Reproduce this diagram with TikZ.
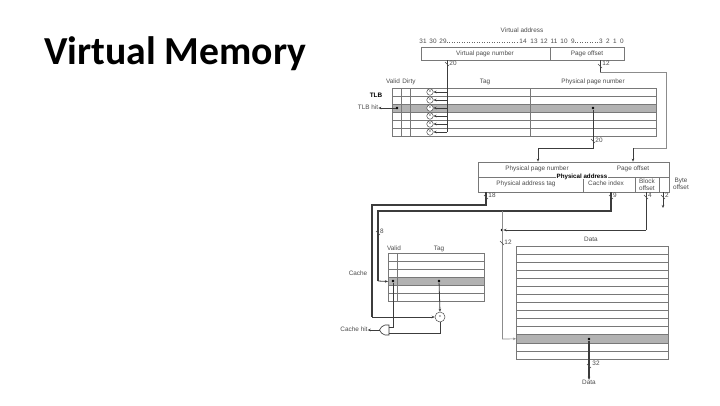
\documentclass[tikz,border=0pt]{standalone}
\usepackage{fontspec}
\setmainfont{Liberation Sans}
\newfontfamily\titlefont{Carlito}
\usetikzlibrary{arrows.meta, positioning}
\definecolor{RowGray}{RGB}{178, 178, 178}
\definecolor{GridGray}{RGB}{120, 120, 120}
\definecolor{WireGray}{RGB}{60, 60, 60}

\begin{document}
\begin{tikzpicture}[
    x=1pt, y=-1pt,
    % --- Styles ---
    % Small grey labels of the figure
    small-label/.style={font=\fontsize{6.4}{6.6}\selectfont, text=black!70, inner sep=0pt, align=center, text height=4.6pt, text depth=1.3pt},
    % Same labels on two lines
    two-lines/.style={small-label, text height=, text depth=},
    % Boxes of the address fields
    field-box/.style={draw=GridGray, line width=0.7pt, inner sep=0pt},
    % One row of a table
    row-box/.style={draw=GridGray, line width=0.6pt, minimum height=8pt, inner sep=0pt, outer sep=0pt},
    % Comparators
    cmp-circle/.style={circle, draw=black!70, line width=0.5pt, fill=white, inner sep=0pt, font=\fontsize{4}{4}\selectfont},
    % Wires
    wire/.style={draw=WireGray, line width=0.8pt},
    wire-arrow/.style={wire, -{Stealth[length=3pt, width=2.5pt]}},
    thick-wire/.style={draw=WireGray, line width=1.1pt},
    pale-wire/.style={draw=black!45, line width=0.7pt},
    pale-arrow/.style={pale-wire, -{Stealth[length=3pt, width=2.5pt]}},
    tick-mark/.style={draw=black!70, line width=0.4pt},
    dot-mark/.style={circle, fill=black, minimum size=2.6pt, inner sep=0pt}
]
\useasboundingbox[fill=white] (0,0) rectangle (720,405);

% --- Title ---
\node[font=\titlefont\bfseries\fontsize{39.7}{42}\selectfont, anchor=base west, inner sep=0pt] (title) at (44,64) {Virtual Memory};

% --- Virtual address ---
\node[small-label] (va-label) at (522,31) {Virtual address};
\foreach \b/\xb in {31/423,30/433,29/443,14/523,13/534,12/544,11/554,10/564,9/573,3/601,2/608,1/615,0/622} {
    \node[small-label] (bit-\b) at (\xb,42) {\b};
}
\draw[black!60, line width=0.5pt, dotted] (bit-29.east) -- (bit-14.west);
\draw[black!60, line width=0.5pt, dotted] (bit-9.east) -- (bit-3.west);
\node[field-box, minimum width=129pt, minimum height=13pt] (vpn) at (485.5,53.5) {};
\node[field-box, minimum width=74pt, minimum height=13pt] (vpo) at (587,53.5) {};
\node[small-label] (vpn-label) at (485,53.5) {Virtual page number};
\node[small-label] (vpo-label) at (587,53.5) {Page offset};

% --- TLB ---
\foreach \i/\yr in {1/92,2/100,3/108,4/116,5/124,6/132} {
    \node[row-box, minimum width=264pt] (tlb-\i) at (524,\yr) {};
}
\fill[RowGray] (tlb-3.north west) rectangle (tlb-3.south east);
\draw[GridGray, line width=0.6pt] (tlb-3.north west) rectangle (tlb-3.south east);
\foreach \xc/\lw in {401/0.5,410/0.6,530/1} {
    \draw[GridGray, line width=\lw pt] (\xc,88) -- (\xc,136);
}
\node[small-label] (tlb-valid) at (393,82) {Valid};
\node[small-label] (tlb-dirty) at (409,82) {Dirty};
\node[small-label] (tlb-tag) at (485,82) {Tag};
\node[small-label] (tlb-ppn) at (593,82) {Physical page number};
\node[small-label, font=\fontsize{6.4}{6.6}\selectfont\bfseries, text=black] (tlb-label) at (376,96) {TLB};
\node[small-label] (tlb-hit) at (368,108) {TLB hit};
\node[dot-mark] (tlb-dot) at (397,108) {};
\node[dot-mark] (ppn-dot) at (593,108) {};
\draw[wire-arrow] (tlb-dot) -- (tlb-hit.east);

% --- Comparators and the 20 bit tag wire ---
\coordinate (vpn-out) at (447,60);
\coordinate (vpn-end) at (447,132);
\draw[wire] (vpn-out) -- (vpn-end);
\foreach \i/\yr in {1/92,2/100,3/108,4/116,5/124,6/132} {
    \node[cmp-circle, minimum size=6.5pt] (tlb-cmp-\i) at (430,\yr) {=};
    \coordinate (vpn-tap-\i) at (447,\yr);
    \draw[wire-arrow] (vpn-tap-\i) -- (tlb-cmp-\i.east);
}

% --- Physical address ---
\node[field-box, minimum width=191pt, minimum height=15pt] (pa-top) at (573.5,169.5) {};
\node[field-box, minimum width=105pt, minimum height=15pt] (pa-tag) at (530.5,184.5) {};
\node[field-box, minimum width=52pt, minimum height=15pt] (pa-index) at (609,184.5) {};
\node[field-box, minimum width=24pt, minimum height=15pt] (pa-block) at (647,184.5) {};
\node[field-box, minimum width=10pt, minimum height=15pt] (pa-byte) at (664,184.5) {};
\node[small-label] (ppn-label) at (537,169) {Physical page number};
\node[small-label] (po-label) at (633,169) {Page offset};
\node[small-label, font=\fontsize{6.2}{6.6}\selectfont\bfseries, text=black, fill=white, inner xsep=1pt, text height=4.2pt, text depth=1pt] (pa-label) at (582,176.5) {Physical address};
\node[small-label] (tag-label) at (526,184) {Physical address tag};
\node[small-label] (index-label) at (606,184) {Cache index};
\node[two-lines] (block-label) at (647,184.5) {Block\\offset};
\node[two-lines] (byte-label) at (681,184) {Byte\\offset};

% --- TLB to physical address ---
\coordinate (ppn-turn) at (593,148);
\coordinate (ppn-in) at (538,148);
\draw[wire-arrow] (ppn-dot) -- (ppn-turn) -- (ppn-in) -- (ppn-in |- pa-top.north);
\coordinate (vpo-out) at (600,60);
\coordinate (vpo-turn) at (600,72);
\coordinate (vpo-side) at (666,72);
\coordinate (vpo-low) at (666,148);
\coordinate (po-in) at (633,148);
\draw[wire] (vpo-out) -- (vpo-turn);
\draw[pale-wire] (vpo-turn) -- (vpo-side) -- (vpo-low) -- (po-in);
\draw[wire-arrow] (po-in) -- (po-in |- pa-top.north);

% --- Cache ---
\foreach \i/\yr in {1/257,2/265,3/273,4/281.5,5/289.5,6/297.5} {
    \node[row-box, minimum width=96pt] (cache-\i) at (436,\yr) {};
}
\fill[RowGray] (cache-4.north west) rectangle (cache-4.south east);
\draw[GridGray, line width=0.6pt] (cache-4.north west) rectangle (cache-4.south east);
\draw[GridGray, line width=0.6pt] (397,253) -- (397,301.5);
\node[small-label] (cache-valid) at (394,249) {Valid};
\node[small-label] (cache-tag) at (439,249) {Tag};
\node[small-label] (cache-label) at (358,274) {Cache};
\node[dot-mark] (valid-dot) at (393,281) {};
\node[dot-mark] (tag-dot) at (439,281) {};
\node[cmp-circle, minimum size=10pt] (cache-cmp) at (440,317) {=};
\node[small-label] (cache-hit) at (354,330) {Cache hit};

% --- Hit gate ---
\coordinate (gate-valid) at (389,327);
\coordinate (gate-match) at (389,333);
\coordinate (gate-out) at (379.5,330);
\draw[black!80, line width=0.6pt, fill=white] (389,325) -- (385,325)
    .. controls (382,325) and (381,328) .. (gate-out)
    .. controls (381,332) and (382,335) .. (385,335) -- (389,335) -- cycle;

% --- Cache wires ---
\coordinate (tag-out) at (486,192);
\coordinate (tag-turn) at (486,205);
\coordinate (tag-side) at (372,205);
\coordinate (tag-low) at (372,317);
\draw[thick-wire] (tag-out) -- (tag-turn) -- (tag-side) -- (tag-low);
\draw[wire-arrow] (tag-low) -- (cache-cmp.west);
\coordinate (index-out) at (611,192);
\coordinate (index-turn) at (611,211);
\coordinate (index-side) at (378,211);
\coordinate (index-low) at (378,281);
\draw[thick-wire] (index-out) -- (index-turn) -- (index-side) -- (index-low);
\draw[wire-arrow] (index-low) -- (cache-4.west);
\draw[wire-arrow] (tag-dot) -- (cache-cmp.north);
\draw[wire] (valid-dot) |- (gate-valid);
\draw[wire] (cache-cmp.south) |- (gate-match);
\draw[wire-arrow] (gate-out) -- (cache-hit.east);

% --- Data ---
\foreach \i in {1,...,14} {
    \node[row-box, minimum width=152pt, minimum height=8.07pt] (data-\i) at (592,{241.96+8.07*\i}) {};
}
\fill[RowGray] (data-12.north west) rectangle (data-12.south east);
\draw[GridGray, line width=0.6pt] (data-12.north west) rectangle (data-12.south east);
\node[small-label] (data-label) at (591,240) {Data};
\node[dot-mark] (data-dot) at (589,339) {};
\node[small-label] (data-out) at (589,383) {Data};
\draw[thick-wire, -{Stealth[length=3pt, width=2.5pt]}] (data-dot) -- (data-out.north);

% --- Block and byte offset ---
\node[dot-mark] (block-dot) at (502,230) {};
\coordinate (block-out) at (646,192);
\coordinate (block-turn) at (646,230);
\draw[wire] (block-out) -- (block-turn);
\draw[wire-arrow] (block-turn) -- (block-dot);
\coordinate (byte-out) at (663,192);
\coordinate (byte-end) at (663,208);
\draw[wire-arrow] (byte-out) -- (byte-end);
\coordinate (line-top) at (502,211);
\coordinate (line-low) at (502,339);
\draw[pale-wire] (line-top) -- (line-low);
\draw[pale-arrow] (line-low) -- (data-12.west);

% --- Bit widths on the wires ---
\foreach \xt/\yt/\xl/\yl/\w in {447/64/453/64/20, 600/66/606/64/12, 593/141/599/141/20, 486/197/492/196/18, 611/197/615/196/9, 646/197/650/196/4, 663/197/667/196/2, 378/233/382/232/8, 502/243/508/243/12, 589/366/596/364/32} {
    \draw[tick-mark] ({\xt-2},{\yt-2}) -- ({\xt+2},{\yt+2});
    \node[small-label] (width-\xt-\yt) at (\xl,\yl) {\w};
}

\end{tikzpicture}
\end{document}
